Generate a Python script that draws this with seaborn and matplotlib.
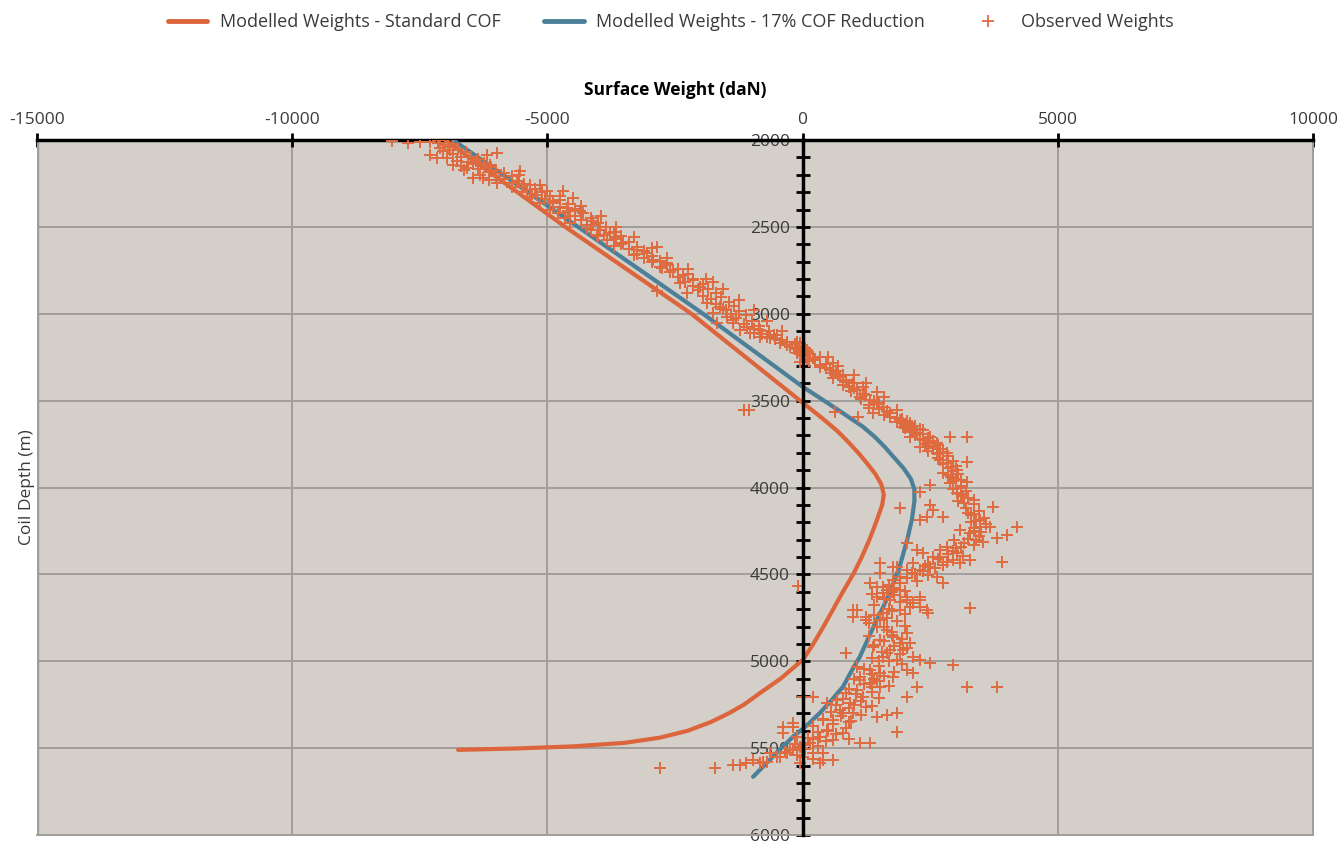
import matplotlib
matplotlib.use("Agg")
import matplotlib.pyplot as plt
import matplotlib.ticker as mticker
from matplotlib.lines import Line2D
import seaborn as sns
import pandas as pd

# modelled weights, standard COF
std_depth = [2000, 2500, 3000, 3500, 3600, 3680, 3740, 3800, 3860, 3920, 3980,
             4040, 4100, 4200, 4300, 4400, 4500, 4600, 4700, 4800, 4900, 4990,
             5100, 5183, 5250, 5300, 5350, 5400, 5440, 5470, 5490, 5502, 5510]
std_weight = [-7000, -4650, -2180, -50, 380, 700, 900, 1090, 1260, 1420, 1540,
              1590, 1560, 1440, 1310, 1160, 990, 790, 600, 410, 210, 10,
              -430, -835, -1150, -1450, -1800, -2250, -2800, -3500, -4500, -5600, -6750]

# modelled weights, 17% COF reduction
red_depth = [2000, 2500, 3000, 3420, 3500, 3580, 3650, 3710, 3770, 3830, 3890,
             3950, 4010, 4080, 4186, 4300, 4456, 4580, 4687, 4820, 4975, 5050,
             5147, 5220, 5297, 5370, 5435, 5530, 5625, 5665]
red_weight = [-6850, -4400, -1950, 0, 420, 830, 1180, 1420, 1620, 1800, 1980,
              2120, 2190, 2190, 2140, 2050, 1900, 1740, 1580, 1360, 1120, 970,
              790, 580, 340, 80, -190, -520, -835, -970]

# observed weights
obs_depth = [2006, 2015, 2012, 1990, 2000, 2030, 2046, 2060, 2086, 2104, 2104, 2121,
             2144, 2150, 2161, 2173, 2201, 2219, 2219, 2230, 2247, 2086, 2075, 2144,
             2120, 2178, 2236, 2259, 2293, 2316, 2293, 2351, 2334, 2391, 2408, 2270,
             2330, 2360, 2420, 2440, 2466, 2506, 2547, 2480, 2489, 2518, 2535, 2575,
             2593, 2560, 2610, 2633, 2650, 2616, 2690, 2660, 2708, 2748, 2730, 2777,
             2823, 2806, 2846, 2817, 2881, 2870, 2938, 2961, 2996, 2980, 3018, 3053,
             3053, 3076, 3036, 3093, 3110, 3110, 3133, 3133, 3093, 3122, 3139, 3168,
             3191, 3168, 3225, 3208, 3200, 3240, 3277, 3254, 3260, 3306, 3323, 3283,
             3364, 3381, 3398, 3439, 3421, 3479, 3496, 3513, 3537, 3571, 3571, 3554,
             3594, 3594, 3611, 3629, 3652, 3629, 3669, 3686, 3669, 3709, 3709, 3744,
             3767, 3767, 3744, 3709, 3710, 3801, 3801, 3859, 3916, 3853, 3899, 3968,
             3974, 4031, 4025, 3985, 4089, 4071, 4146, 4186, 4111, 4227, 4227, 4227,
             4273, 4290, 4313, 4262, 4244, 4319, 4302, 4342, 4359, 4376, 4399, 4376,
             4359, 4434, 4457, 4474, 4474, 4457, 4514, 4417, 4428, 4434, 4428, 4117,
             4100, 4129, 4169, 4186, 4169, 4319, 4434, 4457, 4589, 4589, 4629, 4514,
             4549, 4492, 4532, 4572, 4549, 4629, 4647, 4629, 4664, 4647, 4704, 4704,
             4721, 4744, 4704, 4693, 4606, 4580, 4650, 4687, 4725, 4704, 4762, 4762,
             4820, 4877, 4860, 4894, 4894, 4917, 4934, 4934, 4975, 4975, 4992, 4992,
             5009, 5021, 5147, 5147, 5050, 5067, 5090, 5050, 5067, 5090, 5032, 4952,
             4744, 5107, 5124, 5147, 5205, 5147, 5165, 5182, 5205, 5240, 5222, 5240,
             5205, 5205, 5280, 5297, 5263, 5320, 5309, 5297, 5407, 5470, 5470, 5337,
             5337, 5395, 5412, 5453, 5435, 5470, 5493, 5355, 5378, 5412, 5435, 5510,
             5550, 5528, 5550, 5528, 5568, 5568, 5585, 5585, 5580, 5615, 5615, 5597,
             5597, 5585, 5585, 5568, 5580, 5551, 5528, 5510, 5500, 5378, 4566, 3565,
             3553, 3553,
             3460, 3520, 3540, 3580, 3600, 3640, 3680, 3720, 3760, 3780, 3830, 3880,
             3930, 3950, 4000, 4050, 4150, 4200, 4250, 4300, 4350, 4400, 4450, 4500,
             4550, 4600, 4700, 4800, 4850, 4950, 5000, 5100, 5150, 5250, 5300, 5350,
             5400, 5450, 5480, 3150, 3180, 3220, 3250, 3290, 3330, 3350, 3400, 3420,
             2010, 2020, 2025, 2040, 2050, 2065, 2070, 2080, 2095, 2100, 2110, 2125,
             2130, 2140, 2155, 2165, 2170, 2185, 2190, 2205, 2210, 2225, 2235, 2250,
             2255, 2270, 2280, 2290, 2300, 2310, 2320, 2340, 2345, 2360, 2370, 2385,
             2395, 2410, 2420, 2435, 2450, 2460, 2475, 2490, 2500, 2520, 2530, 2545,
             2555, 2570, 2585, 2600, 2615, 2625, 2640, 2655, 2665, 2680, 2695, 2705,
             2720, 2735, 2745, 2760, 2770, 2790, 2800, 2815, 2830, 2840, 2855, 2865,
             2880, 2895, 2905, 2915, 2930, 2945, 2955, 2970, 2985, 3000, 3010, 3025,
             3040, 3060, 3070, 3085, 3100, 3115, 3125, 3145, 3160, 3175, 3185, 3195,
             3215, 3230, 3245, 3265, 3270, 3295, 3310, 3340, 3355, 3370, 3390, 3410,
             3430, 3445, 3470, 3490, 3505, 3525, 3550, 3560,
             3605, 3615, 3625, 3645, 3655, 3665, 3690, 3700, 3715, 3725, 3735, 3750,
             3755, 3775, 3790, 3795, 3810, 3820, 3840, 3845, 3865, 3875, 3890, 3905,
             3920, 3940, 3955, 3965, 3990, 4010, 4020, 4040, 4060, 4080, 4095, 4120,
             4135, 4160, 4175, 4195, 4210, 4235, 4255, 4280, 4295, 4330, 4345, 4365,
             4385, 4395, 4410, 4420, 4440, 4445, 4465, 4480, 4490, 4505, 4520, 4540,
             4560, 4575, 4595, 4615, 4620, 4640, 4660, 4675, 4690, 4710, 4730, 4735,
             4750, 4770, 4780, 4795, 4805, 4830, 4840, 4855, 4870, 4885, 4905, 4910,
             4925, 4945, 4960, 4980, 5000, 5015, 5030, 5045, 5060, 5075, 5085, 5100,
             5115, 5130, 5140, 5160, 5175, 5190, 5210, 5215, 5230, 5250, 5260, 5270,
             5290, 5310, 5315, 5330, 5345, 5360, 5370, 5385, 5405, 5420, 5440, 5445,
             5460, 5475, 5485, 5505, 5520, 5530, 5540, 5560,
             2200, 2260, 2320, 2380, 2440, 2500, 2560, 2620, 2680, 2740, 2800, 2860,
             2920, 2980, 3040, 3100, 3160, 2300, 2400, 2450, 2550, 3250, 3300, 3350,
             3400, 3450, 3480]
obs_weight = [-8050, -7730, -7500, -7240, -7100, -7000, -7100, -6900, -7300, -7170, -6970, -6770,
              -6840, -6700, -6580, -6640, -6320, -6450, -6260, -6150, -5990, -6190, -5990, -6120,
              -6400, -5540, -5600, -5340, -5010, -5210, -4690, -4890, -4500, -4620, -4360, -5700,
              -5350, -5150, -4800, -4550, -4100, -4230, -4030, -4555, -4230, -3970, -3770, -3830,
              -3510, -3650, -3700, -3250, -3050, -2850, -2930, -3300, -2660, -2530, -2800, -2340,
              -2400, -2140, -2010, -1750, -2270, -2850, -1880, -1620, -1750, -1500, -1490, -1360,
              -1680, -1090, -1360, -1230, -960, -1030, -700, -830, -830, -570, -640, -440,
              -250, -50, -110, 90, -150, -20, -50, 210, 80, 340, 530, 600,
              730, 860, 990, 1060, 1180, 1120, 1320, 1450, 1580, 1380, 1710, 1840,
              1710, 1090, 1910, 1970, 1970, 2100, 2170, 2240, 2360, 2100, 2500, 2500,
              2430, 2300, 2630, 2890, 3220, 2820, 2630, 2820, 2750, 3220, 3030, 3220,
              2890, 3030, 2300, 2500, 3160, 3350, 3250, 3480, 3740, 3670, 3480, 4200,
              4000, 3800, 3540, 3280, 3090, 3160, 2960, 2830, 2700, 3030, 2560, 2360,
              2240, 2170, 2500, 2300, 2040, 1780, 1910, 3280, 3910, 3090, 2830, 1900,
              2500, 2560, 2760, 2300, 2430, 2040, 1510, 1840, 1650, 1910, 2300, 2630,
              2760, 1510, 1780, 1580, 1320, 1450, 1710, 2040, 2170, 2300, 2430, 1910,
              1580, 1250, 990, 3280, 1580, 1800, 2050, 2300, 2450, 1060, 1250, 1510,
              1650, 1510, 1780, 1910, 2100, 1380, 1710, 1970, 2170, 1580, 1840, 2300,
              2500, 2950, 3220, 3800, 1320, 1510, 1780, 2040, 2170, 1120, 1060, 860,
              990, 1120, 1320, 2240, 2040, 1510, 1060, 860, 1190, 930, 670, 470,
              210, 10, 730, 990, 1250, 1450, 1650, 1840, 1840, 1120, 1320, 600,
              400, 470, 800, 600, 340, 140, -50, -190, -380, -380, -110, -250,
              -450, -640, 10, 210, 400, 600, 340, -50, -770, -2790, -1710, -1360,
              -1230, -1100, -830, -970, -700, -510, -310, -180, -20, -180, -90, 630,
              -1150, -1050,
              1200, 1500, 1300, 1600, 1850, 2050, 2150, 2300, 2550, 2700, 2650, 2900,
              2850, 3000, 3100, 3150, 3350, 3300, 3350, 3400, 3000, 2700, 2400, 2200,
              1900, 1750, 1700, 1600, 1750, 1650, 1500, 1400, 1350, 1000, 800, 900,
              500, 200, 0, -400, -300, 100, 350, 450, 650, 800, 1000, 900,
              -7300, -7150, -6850, -6950, -6750, -7050, -6600, -6850, -6500, -6700, -6350, -6550,
              -6250, -6450, -6100, -6350, -6000, -6150, -5850, -6000, -5700, -5850, -5550, -5700,
              -5450, -5500, -5250, -5400, -5100, -5300, -4950, -5050, -4750, -4900, -4600, -4750,
              -4450, -4600, -4300, -4450, -4150, -4350, -4000, -4100, -3850, -4150, -3700, -3900,
              -3550, -3650, -3400, -3550, -3250, -3400, -3100, -3250, -2950, -3100, -2800, -2950,
              -2650, -2750, -2450, -2600, -2250, -2450, -2150, -2300, -1950, -2150, -1850, -2050,
              -1700, -1950, -1600, -1800, -1450, -1700, -1350, -1550, -1250, -1400, -1100, -1300,
              -1000, -1150, -850, -950, -650, -800, -500, -550, -300, -150, -50, 50,
              -80, 150, 0, 250, 120, 350, 450, 550, 700, 600, 850, 800,
              1000, 950, 1250, 1150, 1400, 1300, 1500, 1650,
              1950, 2050, 1850, 2200, 2000, 2300, 2350, 2200, 2450, 2350, 2550, 2400,
              2650, 2550, 2450, 2750, 2650, 2850, 2700, 2950, 2750, 3000, 2850, 2950,
              3050, 2900, 3100, 2950, 3100, 2950, 3200, 3100, 3250, 3050, 3350, 3200,
              3450, 3300, 3550, 3400, 3600, 3350, 3500, 3450, 3250, 3350, 3100, 2950,
              2850, 3150, 2650, 2950, 2450, 2750, 2600, 2350, 2150, 2450, 2050, 2250,
              1700, 1450, 2000, 1350, 1800, 1600, 1900, 1400, 2100, 1750, 2000, 1400,
              1650, 1850, 1300, 2000, 1450, 1750, 2050, 1300, 1950, 1600, 1400, 1800,
              2050, 1550, 1900, 1350, 1700, 1950, 1500, 1200, 1800, 1350, 1600, 1000,
              1450, 1200, 1700, 900, 1350, 1050, 1500, 800, 1150, 650, 1350, 900,
              550, 1150, 750, 400, 950, 600, 200, 850, 300, 650, 100, 900,
              450, -150, 300, 50, -350, 400, -100, 200,
              -5550, -5150, -4750, -4350, -3950, -3650, -3300, -2950, -2650, -2250, -1900, -1550,
              -1250, -950, -700, -400, -100, -5500, -4950, -4650, -4000, 500, 700, 1000,
              1250, 1450, 1600]

orange = "#dc653b"
blue = "#4c8099"
text_col = "#3a3a3a"

std_df = pd.DataFrame({"weight": std_weight, "depth": std_depth})
red_df = pd.DataFrame({"weight": red_weight, "depth": red_depth})
obs_df = pd.DataFrame({"weight": obs_weight, "depth": obs_depth})

sns.set_theme(style="white")
plt.rcParams["font.family"] = ["Open Sans", "DejaVu Sans"]
plt.rcParams["axes.unicode_minus"] = False

fig = plt.figure(figsize=(13.41, 8.43), dpi=100)
ax = fig.add_axes([37 / 1341, 8 / 843, 1276 / 1341, 695 / 843])
ax.set_facecolor("#d4cfc8")

sns.lineplot(data=std_df, x="weight", y="depth", sort=False, estimator=None,
             color=orange, lw=3, ax=ax, zorder=3)
sns.lineplot(data=red_df, x="weight", y="depth", sort=False, estimator=None,
             color=blue, lw=3, ax=ax, zorder=3)
sns.scatterplot(data=obs_df, x="weight", y="depth", marker="+", s=85,
                color="#df6b40", linewidth=1.4, ax=ax, zorder=4)

ax.set_xlim(-15000, 10000)
ax.set_ylim(6000, 2000)
ax.xaxis.set_major_locator(mticker.MultipleLocator(5000))
ax.yaxis.set_major_locator(mticker.MultipleLocator(500))
ax.yaxis.set_minor_locator(mticker.MultipleLocator(100))

ax.grid(True, which="major", color="#a19d98", lw=1.4)
ax.set_axisbelow(True)

# top axis with weight labels
ax.xaxis.tick_top()
ax.xaxis.set_label_position("top")
ax.tick_params(axis="x", which="major", direction="inout", length=10, width=2,
               color="black", labelsize=12.5, labelcolor=text_col, pad=4)
ax.set_xlabel("Surface Weight (daN)", fontsize=12.5, fontweight="bold",
              color="black", labelpad=12)

# depth axis sits on zero weight
ax.spines["left"].set_position(("data", 0))
ax.spines["left"].set_color("black")
ax.spines["left"].set_linewidth(2.5)
ax.spines["left"].set_zorder(5)
ax.spines["top"].set_color("black")
ax.spines["top"].set_linewidth(2.5)
for s in ["right", "bottom"]:
    ax.spines[s].set_color("#a19d98")
    ax.spines[s].set_linewidth(1.4)
ax.axvline(-15000, color="#a19d98", lw=2.5, zorder=1)
ax.tick_params(axis="y", which="both", direction="inout", length=10, width=2,
               color="black", left=True, right=False)
ax.tick_params(axis="y", which="major", labelsize=12.5, labelcolor=text_col, pad=4)
ax.set_ylabel("")

fig.text(27 / 1341, 1 - 487 / 843, "Coil Depth (m)", rotation=90, ha="center",
         va="center", fontsize=12.5, color=text_col)

handles = [Line2D([0], [0], color=orange, lw=3.5),
           Line2D([0], [0], color=blue, lw=3.5),
           Line2D([0], [0], color="#df6b40", marker="+", ls="", markersize=9, mew=1.3)]
labels = ["Modelled Weights - Standard COF", "Modelled Weights - 17% COF Reduction",
          "Observed Weights"]
fig.legend(handles, labels, loc="center", bbox_to_anchor=(0.5, 1 - 22 / 843), ncol=3,
           frameon=False, fontsize=13, labelcolor=text_col, handlelength=2.2,
           columnspacing=2.4, handletextpad=0.7)

fig.savefig("out.png", dpi=100, facecolor="white")
